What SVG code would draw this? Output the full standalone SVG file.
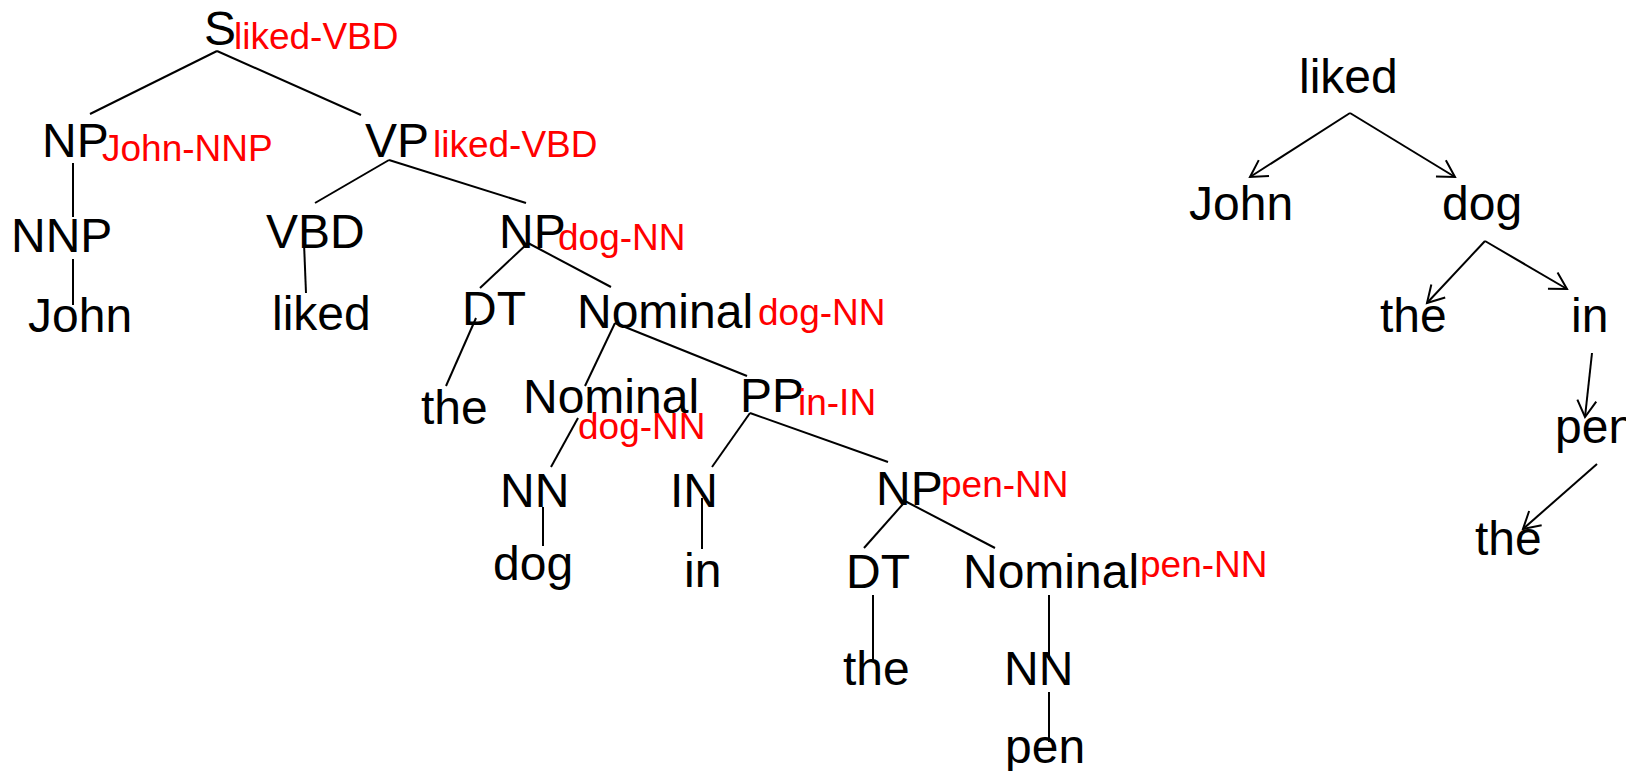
<svg xmlns="http://www.w3.org/2000/svg" width="1626" height="771" viewBox="0 0 1626 771">
<style>
text{font-family:"Liberation Sans",Arial,sans-serif}
.b{font-size:48px;fill:#000}
.r{font-size:37px;fill:#ff0000}
.e line{stroke:#000;stroke-width:2}
.a line{stroke:#000;stroke-width:2;marker-end:url(#ah)}
</style>
<defs>
<marker id="ah" markerUnits="userSpaceOnUse" markerWidth="40" markerHeight="40" refX="0" refY="0" orient="auto" viewBox="-20 -20 40 40" overflow="visible">
<path d="M-16.5,-9.5 L0,0 L-16.5,9.5" fill="none" stroke="#000" stroke-width="2"/>
</marker>
</defs>
<rect width="1626" height="771" fill="#fff"/>
<g id="connectors">
<g class="e">
<line x1="217" y1="51" x2="90" y2="114"/>
<line x1="217" y1="51" x2="361" y2="115"/>
<line x1="73" y1="163" x2="73" y2="217"/>
<line x1="73" y1="259" x2="73" y2="305"/>
<line x1="389" y1="160" x2="315" y2="203"/>
<line x1="389" y1="160" x2="526" y2="203"/>
<line x1="304" y1="243" x2="306" y2="293"/>
<line x1="528" y1="243" x2="480" y2="288"/>
<line x1="528" y1="243" x2="611" y2="287"/>
<line x1="476" y1="318" x2="446" y2="386"/>
<line x1="615" y1="323" x2="585" y2="386"/>
<line x1="615" y1="323" x2="747" y2="376"/>
<line x1="578" y1="418" x2="551" y2="467"/>
<line x1="750" y1="413" x2="712" y2="467"/>
<line x1="750" y1="413" x2="888" y2="462"/>
<line x1="543" y1="507" x2="543" y2="546"/>
<line x1="702" y1="498" x2="702" y2="549"/>
<line x1="903" y1="504" x2="864" y2="548"/>
<line x1="903" y1="500" x2="995" y2="548"/>
<line x1="873" y1="595" x2="873" y2="660"/>
<line x1="1049" y1="595" x2="1049" y2="660"/>
<line x1="1049" y1="692" x2="1049" y2="742"/>
</g>
<g class="a">
<line x1="1350" y1="113" x2="1250" y2="177"/>
<line x1="1350" y1="113" x2="1455" y2="177"/>
<line x1="1485" y1="241" x2="1427" y2="303"/>
<line x1="1485" y1="241" x2="1567" y2="289"/>
<line x1="1592" y1="353" x2="1585" y2="417"/>
<line x1="1597" y1="464" x2="1523" y2="529"/>
</g>
</g>
<g id="n-S"><text class="b" x="204" y="45">S</text><text class="r" x="234" y="49">liked-VBD</text></g>
<g id="n-NP1"><text class="b" x="42" y="157">NP</text><text class="r" x="102" y="161">John-NNP</text></g>
<g id="n-VP"><text class="b" x="365" y="157">VP</text><text class="r" x="433" y="157">liked-VBD</text></g>
<g id="n-NNP"><text class="b" x="11" y="252">NNP</text></g>
<g id="n-John"><text class="b" x="28" y="332">John</text></g>
<g id="n-VBD"><text class="b" x="266" y="248">VBD</text></g>
<g id="n-liked"><text class="b" x="272" y="330">liked</text></g>
<g id="n-NP2"><text class="b" x="499" y="248">NP</text><text class="r" x="558" y="250">dog-NN</text></g>
<g id="n-DT1"><text class="b" x="462" y="325">DT</text></g>
<g id="n-Nom1"><text class="b" x="577" y="328">Nominal</text><text class="r" x="758" y="325">dog-NN</text></g>
<g id="n-the1"><text class="b" x="421" y="424">the</text></g>
<g id="n-Nom2"><text class="b" x="523" y="413">Nominal</text><text class="r" x="578" y="439">dog-NN</text></g>
<g id="n-PP"><text class="b" x="740" y="412">PP</text><text class="r" x="798" y="415">in-IN</text></g>
<g id="n-NN1"><text class="b" x="500" y="507">NN</text></g>
<g id="n-IN"><text class="b" x="670" y="507">IN</text></g>
<g id="n-dog"><text class="b" x="493" y="580">dog</text></g>
<g id="n-in"><text class="b" x="684" y="587">in</text></g>
<g id="n-NP3"><text class="b" x="876" y="505">NP</text><text class="r" x="941" y="497">pen-NN</text></g>
<g id="n-DT2"><text class="b" x="846" y="588">DT</text></g>
<g id="n-Nom3"><text class="b" x="963" y="588">Nominal</text><text class="r" x="1140" y="577">pen-NN</text></g>
<g id="n-the2"><text class="b" x="843" y="685">the</text></g>
<g id="n-NN2"><text class="b" x="1004" y="685">NN</text></g>
<g id="n-pen"><text class="b" x="1005" y="763">pen</text></g>
<g id="d-liked"><text class="b" x="1299" y="93">liked</text></g>
<g id="d-John"><text class="b" x="1189" y="220">John</text></g>
<g id="d-dog"><text class="b" x="1442" y="220">dog</text></g>
<g id="d-the1"><text class="b" x="1380" y="332">the</text></g>
<g id="d-in"><text class="b" x="1571" y="332">in</text></g>
<g id="d-pen"><text class="b" x="1555" y="443">pen</text></g>
<g id="d-the2"><text class="b" x="1475" y="555">the</text></g>
</svg>
